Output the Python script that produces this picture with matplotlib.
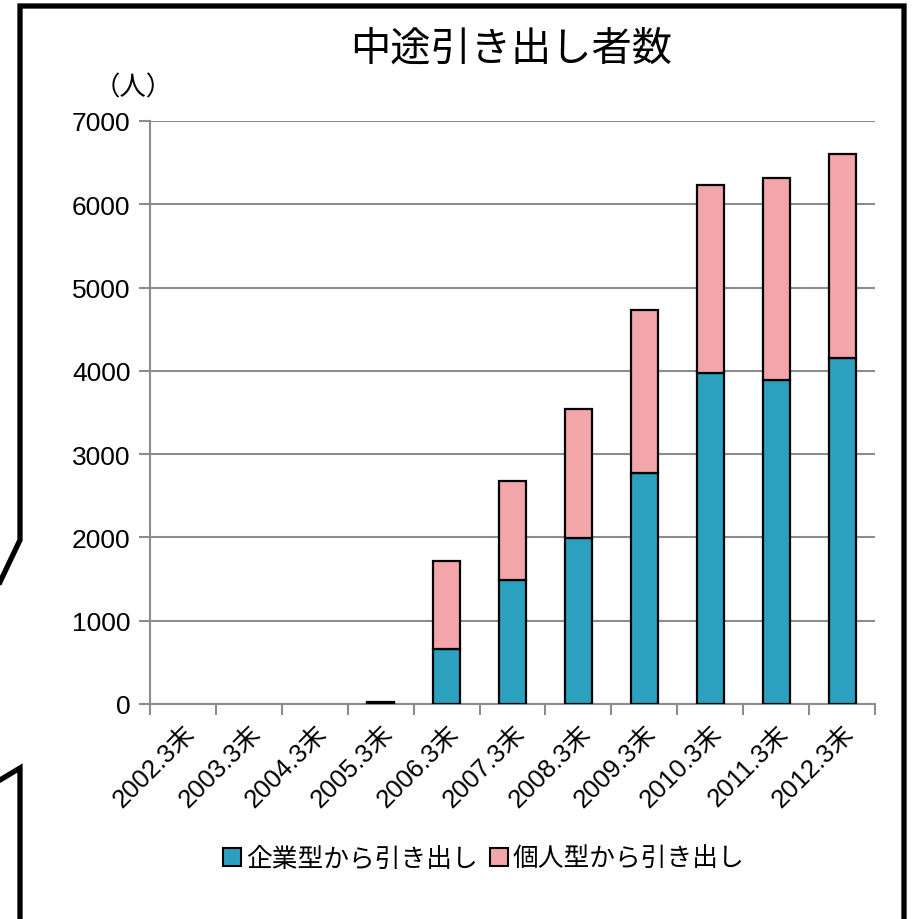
import matplotlib
matplotlib.use("Agg")
import matplotlib.pyplot as plt
from matplotlib.lines import Line2D
from matplotlib.patches import Patch
import numpy as np

plt.rcParams['font.family'] = ['Liberation Sans', 'Noto Sans CJK JP', 'DejaVu Sans']

# data (people); years with no withdrawals have no bar
years = ['2002.3末', '2003.3末', '2004.3末', '2005.3末', '2006.3末', '2007.3末',
         '2008.3末', '2009.3末', '2010.3末', '2011.3末', '2012.3末']
corporate = [0, 0, 0, 10, 660, 1490, 1995, 2775, 3975, 3890, 4155]
individual = [0, 0, 0, 20, 1060, 1190, 1545, 1960, 2260, 2420, 2445]
yticks = [0, 1000, 2000, 3000, 4000, 5000, 6000, 7000]

TEAL = '#2CA1BF'
PINK = '#F2A6A9'
GRID = '#8C8C8C'

W, H = 913, 920
fig = plt.figure(figsize=(W / 100, H / 100), dpi=100)
fig.patch.set_facecolor('white')
ax = fig.add_axes([150 / W, 1 - 705 / H, (875 - 150) / W, (705 - 122) / H])

x = np.arange(len(years))
corp = np.array(corporate, dtype=float)
indiv = np.array(individual, dtype=float)
has = (corp + indiv) > 0
bw = 0.41
ax.bar(x[has], corp[has], bw, color=TEAL, edgecolor='black', linewidth=1.6, zorder=3)
ax.bar(x[has], indiv[has], bw, bottom=corp[has], color=PINK, edgecolor='black',
       linewidth=1.6, zorder=3)

ax.set_xlim(-0.5, len(years) - 0.5)
ax.set_ylim(0, 7000)
ax.set_yticks(yticks)
ax.set_yticklabels([str(v) for v in yticks], fontsize=19)
ax.yaxis.grid(True, color=GRID, linewidth=1.5, zorder=0)
ax.set_axisbelow(True)

# labels at centres, tick marks at category boundaries
ax.set_xticks(x)
ax.set_xticklabels(years, rotation=45, ha='right', va='top',
                   rotation_mode='anchor', fontsize=18.5)
ax.tick_params(axis='x', which='major', length=0, pad=12)
ax.set_xticks(np.arange(-0.5, len(years), 1.0), minor=True)
ax.tick_params(axis='x', which='minor', length=8, width=1.5, color=GRID, direction='out')
ax.tick_params(axis='y', length=8, width=1.5, color=GRID, pad=6)

for s in ['top', 'right']:
    ax.spines[s].set_visible(False)
for s in ['left', 'bottom']:
    ax.spines[s].set_color(GRID)
    ax.spines[s].set_linewidth(1.5)

ax.text(511 / W, 1 - 50 / H, '中途引き出し者数', transform=fig.transFigure,
        ha='center', va='center', fontsize=29)
ax.text(133 / W, 1 - 88 / H, '（人）', transform=fig.transFigure,
        ha='center', va='center', fontsize=19)

handles = [Patch(facecolor=TEAL, edgecolor='black', linewidth=1.5),
           Patch(facecolor=PINK, edgecolor='black', linewidth=1.5)]
fig.legend(handles, ['企業型から引き出し', '個人型から引き出し'],
           loc='center', bbox_to_anchor=(484 / W, 1 - 860 / H), ncol=2,
           frameon=False, fontsize=18.5, handlelength=0.7, handleheight=0.7,
           handletextpad=0.2, columnspacing=0.45)

# speech-bubble style frame
def px(pts):
    xs = [p[0] / W for p in pts]
    ys = [1 - p[1] / H for p in pts]
    return xs, ys

frame = [(0, 583), (20, 541), (20, 7), (904, 7), (904, 925)]
lower = [(0, 781), (20, 769), (20, 925)]
for pts in (frame, lower):
    xs, ys = px(pts)
    fig.add_artist(Line2D(xs, ys, transform=fig.transFigure, color='black',
                          linewidth=3.8, solid_joinstyle='miter'))

fig.savefig('out.png', dpi=100)
